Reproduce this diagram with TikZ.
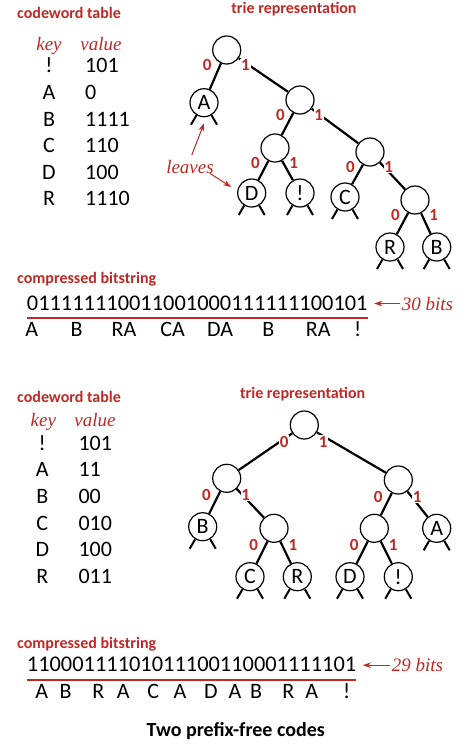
\documentclass[tikz,border=0pt]{standalone}
\usepackage{fontspec}
\setmainfont{Carlito}
\newfontfamily\notefont{Liberation Serif}
\usetikzlibrary{arrows.meta}
\definecolor{bookred}{RGB}{192,40,36}

\begin{document}
\begin{tikzpicture}[x=1pt,y=-1pt,
  txt/.style={font=\fontsize{22}{26}\selectfont, inner sep=0pt, anchor=base},
  bitstring/.style={font=\fontsize{22.4}{26}\selectfont, inner sep=0pt, anchor=base west},
  head/.style={font=\fontsize{16}{18}\selectfont\bfseries, text=bookred, inner sep=0pt, anchor=base west},
  note/.style={font=\notefont\itshape\fontsize{19}{22}\selectfont, text=bookred, inner sep=0pt, anchor=base},
  pointer/.style={draw=bookred, line width=1pt, -{Stealth[length=8pt,width=5.5pt]}},
  trienode/.style={circle, draw, line width=1.2pt, minimum size=28pt, inner sep=0pt, font=\fontsize{22}{26}\selectfont},
  edge/.style={line width=2.2pt},
  stub/.style={line width=2pt},
  bit/.style={font=\fontsize{17}{19}\selectfont\bfseries, text=bookred, fill=white, inner sep=0.8pt},
  uline/.style={draw=bookred, line width=1.6pt}]
\useasboundingbox (0,0) rectangle (468,748);

% upper code: table
\node[head] (uhead) at (17,18.3) {codeword table};
\node[note] (ukey) at (49,50) {key}; \node[note] (uval) at (101,50) {value};
\foreach \k/\v [count=\i] in {!/101,A/0,B/1111,C/110,D/100,R/1110} {
  \node[txt] (uk\i) at (49,{46.2+26.6*\i}) {\k};
  \node[txt, anchor=base west] (uv\i) at (85,{46.2+26.6*\i}) {\v};
}

% upper code: trie
\node[head, anchor=base] (utrie) at (294,13.5) {trie representation};
\node[trienode] (u) at (226.7,50) {};
\node[trienode] (u0) at (204,102.7) {A};
\node[trienode] (u1) at (300,100) {};
\node[trienode] (u10) at (275,148) {};
\node[trienode] (u11) at (370,152) {};
\node[trienode] (u100) at (251.7,193) {D};
\node[trienode] (u101) at (300,193) {!};
\node[trienode] (u110) at (345,197) {C};
\node[trienode] (u111) at (415,200) {};
\node[trienode] (u1110) at (390,247) {R};
\node[trienode] (u1111) at (436.7,247) {B};
\foreach \a/\b in {u/u0,u/u1,u1/u10,u1/u11,u10/u100,u10/u101,u11/u110,u11/u111,u111/u1110,u111/u1111}
  \draw[edge] (\a) -- (\b);
\foreach \n in {u0,u100,u101,u110,u1110,u1111}
  \draw[stub] (\n.-121) -- ++(-5.5,9.5) (\n.-59) -- ++(5.5,9.5);
\foreach \p in {u,u1,u10,u11,u111} {
  \node[bit] at ([shift={(-19.6,14.8)}]\p) {0};
  \node[bit] at ([shift={(18.7,15)}]\p) {1};
}
\node[note] (leaves) at (190,173) {leaves};
\draw[pointer, shorten <=5pt] (leaves.north) -- ([yshift=-6pt]u0.south);
\draw[pointer] ([xshift=-4pt]leaves.south east) -- ([shift={(-6pt,6pt)}]u100.west);

% upper code: bitstring
\node[head] (ucomp) at (17,283.5) {compressed bitstring};
\node[bitstring] (ubits) at (26.7,310) {011111110011001000111111100101};
\draw[uline] ([yshift=-7.7pt]ubits.base west) -- ([yshift=-7.7pt]ubits.base east);
\foreach \t/\x [count=\i] in {A/31.7,B/76.7,RA/124,CA/172.7,DA/220,B/268.3,RA/318.3,!/357.7}
  \node[txt] (uc\i) at (\x,336.7) {\t};
\node[note, anchor=base west] (ucount) at (401.7,310) {30 bits};
\draw[pointer, shorten >=6.5pt, shorten <=1.5pt] (ucount.west) -- (ucount.west -| ubits.east);

% lower code: table
\node[head] (lhead) at (17,402.7) {codeword table};
\node[note] (lkey) at (43.3,426.7) {key}; \node[note] (lval) at (95,426.7) {value};
\foreach \k/\v [count=\i] in {!/101,A/11,B/00,C/010,D/100,R/011} {
  \node[txt] (lk\i) at (42.3,{423.33+26.67*\i}) {\k};
  \node[txt, anchor=base west] (lv\i) at (78.3,{423.33+26.67*\i}) {\v};
}

% lower code: trie
\node[head, anchor=base] (ltrie) at (302.7,398) {trie representation};
\node[trienode] (l) at (304.3,425) {};
\node[trienode] (l0) at (226.7,478.3) {};
\node[trienode] (l1) at (398.3,480) {};
\node[trienode] (l00) at (202.7,526.7) {B};
\node[trienode] (l01) at (274,528.3) {};
\node[trienode] (l10) at (374.3,528.3) {};
\node[trienode] (l11) at (436.7,528.3) {A};
\node[trienode] (l010) at (250,576.7) {C};
\node[trienode] (l011) at (297.3,576.7) {R};
\node[trienode] (l100) at (350,576.7) {D};
\node[trienode] (l101) at (398.3,576.7) {!};
\foreach \a/\b in {l/l0,l/l1,l0/l00,l0/l01,l1/l10,l1/l11,l01/l010,l01/l011,l10/l100,l10/l101}
  \draw[edge] (\a) -- (\b);
\foreach \n in {l00,l11,l010,l011,l100,l101}
  \draw[stub] (\n.-121) -- ++(-5.5,9.5) (\n.-59) -- ++(5.5,9.5);
\foreach \p in {l,l0,l1,l01,l10} {
  \node[bit] at ([shift={(-20.2,16.8)}]\p) {0};
  \node[bit] at ([shift={(19,16.8)}]\p) {1};
}

% lower code: bitstring
\node[head] (lcomp) at (17,648) {compressed bitstring};
\node[bitstring] (lbits) at (26.7,671.7) {11000111101011100110001111101};
\draw[uline] ([yshift=-8.3pt]lbits.base west) -- ([yshift=-8.3pt]lbits.base east);
\foreach \t/\x [count=\i] in {A/41.7,B/65.7,R/98.3,A/123.3,C/153.3,A/180,D/211,A/235,B/256,R/288.3,A/311.7,!/346.7}
  \node[txt] (lc\i) at (\x,698.3) {\t};
\node[note, anchor=base west] (lcount) at (391.7,671.7) {29 bits};
\draw[pointer, shorten >=6.5pt, shorten <=1.5pt] (lcount.west) -- (lcount.west -| lbits.east);

\node[txt, font=\fontsize{20}{24}\selectfont\bfseries] (caption) at (235.8,736) {Two prefix-free codes};
\end{tikzpicture}
\end{document}
